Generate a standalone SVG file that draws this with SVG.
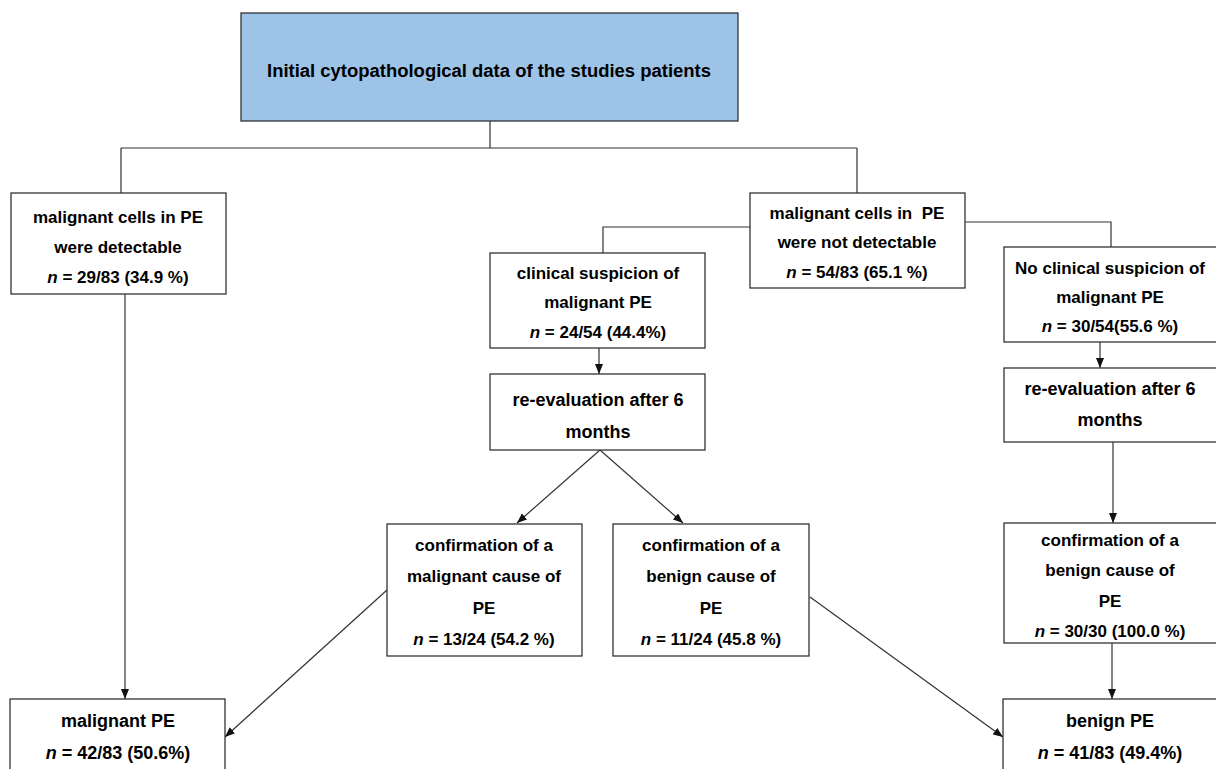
<svg xmlns="http://www.w3.org/2000/svg" width="1216" height="769" viewBox="0 0 1216 769">
<defs>
<marker id="ah" markerWidth="10" markerHeight="8" refX="10" refY="4" orient="auto" markerUnits="userSpaceOnUse">
<path d="M0,0 L10,4 L0,8 z" fill="#111"/>
</marker>
<style>
.box{fill:#fff;stroke:#333;stroke-width:1.3}
.top{fill:#9DC3E6;stroke:#333;stroke-width:1.3}
.t{font-family:"Liberation Sans",Arial,sans-serif;font-weight:bold;font-size:17px;fill:#000;text-anchor:middle}
.t18{font-size:18px}
.ln{fill:none;stroke:#333;stroke-width:1.2}
.ar{fill:none;stroke:#333;stroke-width:1.2;marker-end:url(#ah)}
</style>
</defs>
<rect width="1216" height="769" fill="#fff"/>
<g id="connectors">
<path class="ln" d="M490,121 V148 M121,148 H857 M121,148 V193 M857,148 V193"/>
<path class="ln" d="M750,227 H603 V253 M965,222 H1111 V247"/>
<path class="ar" d="M125,294 V699"/>
<path class="ar" d="M599,348 V374"/>
<path class="ar" d="M1100,342 V368"/>
<path class="ar" d="M600,450 L517,523"/>
<path class="ar" d="M600,450 L683,523"/>
<path class="ar" d="M1113,442 V523"/>
<path class="ar" d="M1112,643 V699"/>
<path class="ar" d="M387,590 L225,737"/>
<path class="ar" d="M810,597 L1003,737"/>
</g>
<g id="n-top">
<rect class="top" x="241" y="13" width="497" height="108"/>
<text class="t t18" x="489" y="77" textLength="444" lengthAdjust="spacingAndGlyphs">Initial cytopathological data of the studies patients</text>
</g>
<g id="n-detect">
<rect class="box" x="11" y="193" width="215" height="101"/>
<text class="t" x="118" y="223">malignant cells in PE</text>
<text class="t" x="118" y="253">were detectable</text>
<text class="t" x="118" y="283"><tspan font-style="italic">n</tspan> = 29/83 (34.9 %)</text>
</g>
<g id="n-notdetect">
<rect class="box" x="750" y="193" width="215" height="95"/>
<text class="t" x="857" y="219" xml:space="preserve">malignant cells in  PE</text>
<text class="t" x="857" y="248">were not detectable</text>
<text class="t" x="857" y="278"><tspan font-style="italic">n</tspan> = 54/83 (65.1 %)</text>
</g>
<g id="n-clinical">
<rect class="box" x="490" y="253" width="215" height="95"/>
<text class="t" x="598" y="279">clinical suspicion of</text>
<text class="t" x="598" y="308">malignant PE</text>
<text class="t" x="598" y="338"><tspan font-style="italic">n</tspan> = 24/54 (44.4%)</text>
</g>
<g id="n-noclinical">
<rect class="box" x="1004" y="247" width="220" height="95"/>
<text class="t" x="1110" y="274">No clinical suspicion of</text>
<text class="t" x="1110" y="303">malignant PE</text>
<text class="t" x="1110" y="332"><tspan font-style="italic">n</tspan> = 30/54(55.6 %)</text>
</g>
<g id="n-reeval1">
<rect class="box" x="490" y="374" width="215" height="76"/>
<text class="t t18" x="598" y="406">re-evaluation after 6</text>
<text class="t t18" x="598" y="438">months</text>
</g>
<g id="n-reeval2">
<rect class="box" x="1004" y="368" width="220" height="74"/>
<text class="t t18" x="1110" y="395">re-evaluation after 6</text>
<text class="t t18" x="1110" y="426">months</text>
</g>
<g id="n-confmal">
<rect class="box" x="387" y="524" width="195" height="132"/>
<text class="t" x="484" y="551">confirmation of a</text>
<text class="t" x="484" y="582">malignant cause of</text>
<text class="t" x="484" y="614">PE</text>
<text class="t" x="484" y="645"><tspan font-style="italic">n</tspan> = 13/24 (54.2 %)</text>
</g>
<g id="n-confben1">
<rect class="box" x="613" y="524" width="196" height="132"/>
<text class="t" x="711" y="551">confirmation of a</text>
<text class="t" x="711" y="582">benign cause of</text>
<text class="t" x="711" y="614">PE</text>
<text class="t" x="711" y="645"><tspan font-style="italic">n</tspan> = 11/24 (45.8 %)</text>
</g>
<g id="n-confben2">
<rect class="box" x="1004" y="523" width="220" height="120"/>
<text class="t" x="1110" y="546">confirmation of a</text>
<text class="t" x="1110" y="576">benign cause of</text>
<text class="t" x="1110" y="607">PE</text>
<text class="t" x="1110" y="637"><tspan font-style="italic">n</tspan> = 30/30 (100.0 %)</text>
</g>
<g id="n-malpe">
<rect class="box" x="10" y="699" width="215" height="90"/>
<text class="t t18" x="118" y="727">malignant PE</text>
<text class="t t18" x="118" y="759"><tspan font-style="italic">n</tspan> = 42/83 (50.6%)</text>
</g>
<g id="n-benpe">
<rect class="box" x="1003" y="699" width="221" height="90"/>
<text class="t t18" x="1110" y="727">benign PE</text>
<text class="t t18" x="1110" y="759"><tspan font-style="italic">n</tspan> = 41/83 (49.4%)</text>
</g>
</svg>
